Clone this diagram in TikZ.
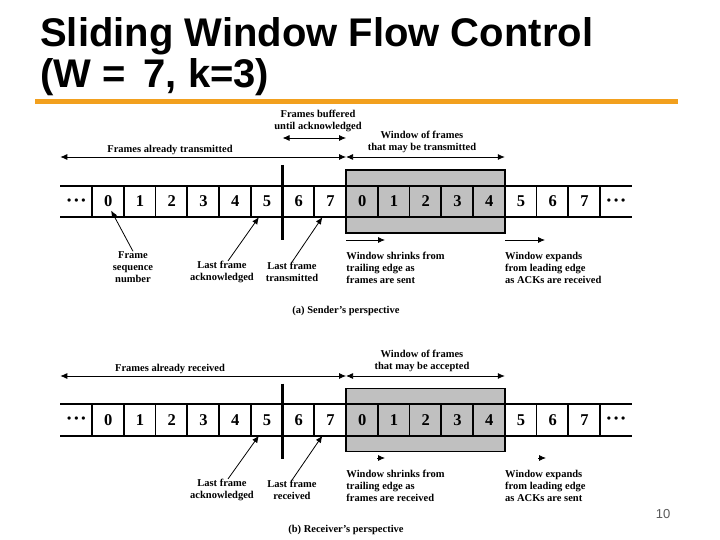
\documentclass[tikz,border=0pt]{standalone}
\usepackage{fontspec}
\setmainfont{Liberation Serif}
\newfontfamily\headfont{Liberation Sans}
\usetikzlibrary{arrows.meta}
\definecolor{barorange}{RGB}{242,160,30}
\definecolor{winshade}{RGB}{192,192,192}
\definecolor{pagegray}{RGB}{90,90,90}

\begin{document}
\begin{tikzpicture}[x=1pt,y=-1pt,
  cell/.style={minimum width=31.75pt,minimum height=31pt,inner sep=0pt,font=\fontsize{16.5}{18}\selectfont\bfseries},
  lbl/.style={font=\fontsize{10.5}{12}\selectfont\bfseries,inner sep=0pt,align=center},
  arr/.style={line width=0.8pt,-{Latex[length=7pt,width=6pt]}},
  darr/.style={line width=0.8pt,{Latex[length=7pt,width=6pt]}-{Latex[length=7pt,width=6pt]}},
  strip/.style={line width=2.2pt},
  sep/.style={line width=1.7pt}]
  \useasboundingbox[fill=white] (0,0) rectangle (720,540);

  % title
  \node[anchor=base west,inner sep=0pt,font=\headfont\fontsize{40}{44}\selectfont\bfseries] (title) at (40,47) {Sliding Window Flow Control};
  \node[anchor=base west,inner sep=0pt,font=\headfont\fontsize{40}{44}\selectfont\bfseries] (subtitle) at (40,88) {(W = \,7, k=3)};
  \fill[barorange] (35,99) rectangle (678,104);

  % the two frame strips
  \foreach \row/\dy in {s/0,r/218.5}{
    \begin{scope}[shift={(0,\dy)}]
      \fill[winshade] (346.25,170) rectangle (505,233);
      \foreach \lab [count=\i from 0] in {{\fontsize{12}{12}\selectfont\textbullet\hspace{3pt}\textbullet\hspace{3pt}\textbullet},0,1,2,3,4,5,6,7,0,1,2,3,4,5,6,7,{\fontsize{12}{12}\selectfont\textbullet\hspace{3pt}\textbullet\hspace{3pt}\textbullet}}
        \node[cell] (\row\i) at (76.375+31.75*\i,201.5) {\lab};
      \draw[strip] (\row0.north west) -- (\row17.north east) (\row0.south west) -- (\row17.south east);
      \foreach \j in {1,...,17}
        \draw[sep] (\row\j.north west) -- (\row\j.south west);
      \draw[line width=1.7pt] (346.25,170) rectangle (505,233);
      \draw[line width=3.2pt] (\row7.west |- 0,165) -- (\row7.west |- 0,240);
    \end{scope}
  }

  % sender
  \node[lbl] (buf) at (318,121) {Frames buffered\\until acknowledged};
  \node[lbl] (done) at (170,150) {Frames already transmitted};
  \node[lbl] (win) at (422,142) {Window of frames\\that may be transmitted};
  \draw[darr] (s7.west |- 0,138) -- (s9.west |- 0,138);
  \draw[darr] (s0.west |- 0,157) -- (s9.west |- 0,157);
  \draw[darr] (s9.west |- 0,157) -- (s14.west |- 0,157);

  \node[lbl] (seq) at (133,267) {Frame\\sequence\\number};
  \draw[arr] (seq.north) -- ([shift={(3,9)}]s1.center);
  \node[lbl] (ack) at (222,272) {Last frame\\acknowledged};
  \draw[arr] ([xshift=6pt]ack.north) -- ([xshift=-8pt]s6.south);
  \node[lbl] (sent) at (292,272) {Last frame\\transmitted};
  \draw[arr] (sent.north) -- ([xshift=-8pt]s8.south);
  \node[lbl,anchor=west,align=left] (shrink) at (346.25,268) {Window shrinks from\\trailing edge as\\frames are sent};
  \draw[arr] (shrink.west |- 0,240) -- (385,240);
  \node[lbl,anchor=west,align=left] (expand) at (505,268) {Window expands\\from leading edge\\as ACKs are received};
  \draw[arr] (expand.west |- 0,240) -- (545,240);
  \node[lbl] (capa) at (346,311) {(a) Sender's perspective};

  % receiver
  \node[lbl] (rdone) at (170,369) {Frames already received};
  \node[lbl] (rwin) at (422,361) {Window of frames\\that may be accepted};
  \draw[darr] (r0.west |- 0,376) -- (r9.west |- 0,376);
  \draw[darr] (r9.west |- 0,376) -- (r14.west |- 0,376);

  \node[lbl] (rack) at (222,490) {Last frame\\acknowledged};
  \draw[arr] ([xshift=6pt]rack.north) -- ([xshift=-8pt]r6.south);
  \node[lbl] (rrcv) at (292,490) {Last frame\\received};
  \draw[arr] (rrcv.north) -- ([xshift=-8pt]r8.south);
  \node[lbl,anchor=west,align=left] (rshrink) at (346.25,486) {Window shrinks from\\trailing edge as\\frames are received};
  \draw[arr] (377,458) -- (385,458);
  \node[lbl,anchor=west,align=left] (rexpand) at (505,486) {Window expands\\from leading edge\\as ACKs are sent};
  \draw[arr] (538,458) -- (546,458);
  \node[lbl] (capb) at (346,530) {(b) Receiver's perspective};

  \node[font=\headfont\fontsize{13}{13}\selectfont,text=pagegray] (pgno) at (663,514) {10};
\end{tikzpicture}
\end{document}
